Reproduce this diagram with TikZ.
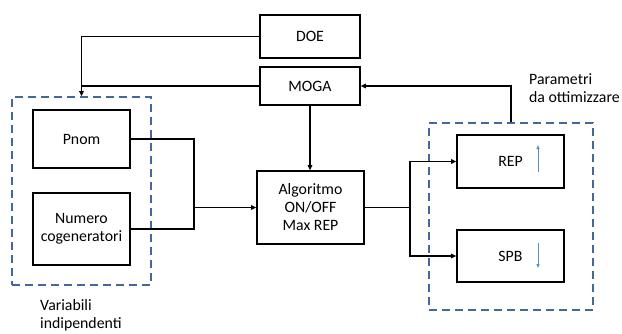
\documentclass[tikz,border=0pt]{standalone}
\usepackage{fontspec}
\setmainfont{Carlito}
\usepackage{xcolor}
\usepackage{tikz}
\usetikzlibrary{positioning,calc,arrows.meta}

\definecolor{dashblue}{RGB}{68,104,155}
\definecolor{tickblue}{RGB}{91,140,200}

\begin{document}
\begin{tikzpicture}[x=1pt,y=-1pt,
    font=\fontsize{15.8}{18}\selectfont,
    block/.style={draw, line width=1.6pt, align=center, inner sep=2pt},
    groupbox/.style={draw=dashblue, line width=1.6pt, dash pattern=on 8pt off 5pt},
    conn/.style={line width=1.7pt},
    arr/.style={conn, -{Triangle[length=5pt,width=4.5pt]}},
    trend/.style={draw=tickblue, line width=0.9pt, -{Triangle[length=4pt,width=3pt]}}]
    \useasboundingbox (0,0) rectangle (622,333);
    % Optimizer blocks
    \node[block, minimum width=100pt, minimum height=43pt] (doe) at (310,36.5) {DOE};
    \node[block, minimum width=100pt, minimum height=38pt] (moga) at (310,86) {MOGA};
    % Independent variables
    \node[groupbox, minimum width=139pt, minimum height=188pt] (varbox) at (81.5,191) {};
    \node[block, minimum width=97pt, minimum height=58pt] (pnom) at (81.5,139) {Pnom};
    \node[block, minimum width=97pt, minimum height=72pt] (numero) at (81.5,229) {Numero\\cogeneratori};
    \node[anchor=north west, align=left, inner sep=0pt] (varlabel) at (40,299) {Variabili\\indipendenti};
    % Algorithm
    \node[block, minimum width=107pt, minimum height=73pt] (algo) at (310.5,207.5) {Algoritmo\\ON/OFF\\Max REP};
    % Parameters to optimize
    \node[groupbox, minimum width=164pt, minimum height=187pt] (parbox) at (511,216.5) {};
    \node[block, minimum width=107pt, minimum height=53pt] (rep) at (510.5,161.5) {REP};
    \node[block, minimum width=107pt, minimum height=52pt] (spb) at (510.5,256) {SPB};
    \node[anchor=north west, align=left, inner sep=0pt] (parlabel) at (529,73) {Parametri\\da ottimizzare};
    % Trend arrows
    \draw[trend] ($(rep.center)+(27.5,10.5)$) -- ($(rep.center)+(27.5,-16.5)$);
    \draw[trend] ($(spb.center)+(27.5,-13)$) -- ($(spb.center)+(27.5,12)$);
    % Connections
    \coordinate (split) at (194,207.5);
    \coordinate (fork) at (410,207.5);
    \draw[arr] (doe.west) -| (varbox.north);
    \draw[conn] (moga.west) -- (moga.west -| varbox.north);
    \draw[arr] (moga.south) -- (moga.south |- algo.north);
    \draw[conn] (pnom.east) -| (split);
    \draw[conn] (numero.east) -| (split);
    \draw[arr] (split) -- (algo.west);
    \draw[conn] (algo.east) -- (fork);
    \draw[arr] (fork) |- (rep.west);
    \draw[arr] (fork) |- (spb.west);
    \draw[arr] (parbox.north) |- (moga.east);
\end{tikzpicture}
\end{document}
